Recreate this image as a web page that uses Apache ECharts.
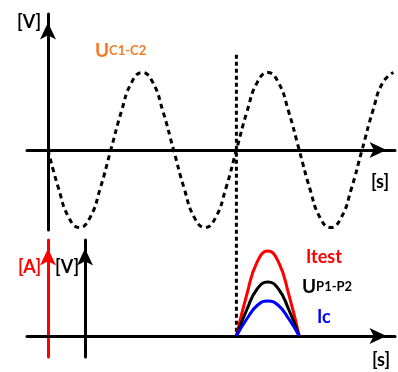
<!DOCTYPE html>
<html>
<head>
<meta charset="utf-8">
<script src="https://cdn.jsdelivr.net/npm/echarts@6/dist/echarts.min.js"></script>
<style>html,body{margin:0;padding:0;background:#fff}#c{width:398px;height:372px}</style>
</head>
<body>
<div id="c"></div>
<script>
// Top: capacitor voltage U(C1-C2), time in half-periods
var uTime = [0,0.17,0.33,0.5,0.67,0.83,1,1.17,1.33,1.5,1.67,1.83,2,2.17,2.33,2.5,2.67,2.83,3,3.17,3.33,3.5,3.67,3.83,4,4.17,4.33,4.5,4.67,4.83,5,5.17,5.33,5.5];
var uValues = [0,-0.5,-0.87,-1,-0.87,-0.5,0,0.5,0.87,1,0.87,0.5,0,-0.5,-0.87,-1,-0.87,-0.5,0,0.5,0.87,1,0.87,0.5,0,-0.5,-0.87,-1,-0.87,-0.5,0,0.5,0.87,1];
// Trigger marker (dashed vertical)
var markerTime = [3, 3];
var markerValues = [1.23, -2.4];
// Bottom: pulse
var pulseTime = [3,3.17,3.33,3.5,3.67,3.83,4];
var itestValues = [0,4.25,7.4,8.5,7.4,4.25,0];
var upValues = [0,2.7,4.7,5.4,4.7,2.7,0];
var icValues = [0,1.75,3.05,3.5,3.05,1.75,0];

function pairs(xs, ys){ return xs.map(function(x,i){return [x, ys[i]];}); }

var FONT = 'Lato, "Open Sans", sans-serif';
var arrowY = {show:true, symbol:['none','arrow'], symbolSize:[12,17], symbolOffset:[0,-8.5]};

var chart = echarts.init(document.getElementById('c'), null, {renderer:'canvas'});
chart.setOption({
  animation:false,
  backgroundColor:'#fff',
  grid:[
    {left:27, width:368, top:14, height:216},
    {left:27, width:368, top:240, height:117}
  ],
  xAxis:[
    {type:'value', gridIndex:0, min:-0.334, max:5.525,
      axisLine:Object.assign({onZero:true, lineStyle:{color:'#000', width:3}}, arrowY),
      axisTick:{show:false}, axisLabel:{show:false}, splitLine:{show:false}},
    {type:'value', gridIndex:1, min:-0.334, max:5.525,
      axisLine:Object.assign({onZero:true, onZeroAxisIndex:1, lineStyle:{color:'#000', width:3}}, arrowY),
      axisTick:{show:false}, axisLabel:{show:false}, splitLine:{show:false}}
  ],
  yAxis:[
    {type:'value', gridIndex:0, min:-1.032, max:1.755,
      axisLine:Object.assign({onZero:true, lineStyle:{color:'#000', width:3}}, arrowY),
      axisTick:{show:false}, axisLabel:{show:false}, splitLine:{show:false}},
    {type:'value', gridIndex:1, min:-2.1, max:9.6, position:'left', offset:-21,
      axisLine:Object.assign({onZero:false, lineStyle:{color:'#ff0000', width:3}}, arrowY),
      axisTick:{show:false}, axisLabel:{show:false}, splitLine:{show:false}},
    {type:'value', gridIndex:1, min:-2.1, max:9.6, position:'left', offset:-58,
      axisLine:Object.assign({onZero:false, lineStyle:{color:'#000', width:3}}, arrowY),
      axisTick:{show:false}, axisLabel:{show:false}, splitLine:{show:false}}
  ],
  series:[
    {type:'line', xAxisIndex:0, yAxisIndex:0, data:pairs(uTime,uValues), smooth:0.5, showSymbol:false,
      lineStyle:{color:'#000', width:3, type:[5,4]}, z:3},
    {type:'line', xAxisIndex:0, yAxisIndex:0, data:pairs(markerTime,markerValues), clip:false, showSymbol:false,
      lineStyle:{color:'#000', width:3, type:[4,3]}, z:3},
    {type:'line', xAxisIndex:1, yAxisIndex:1, data:pairs(pulseTime,itestValues), smooth:0.5, showSymbol:false,
      lineStyle:{color:'#ff0000', width:3}, z:3},
    {type:'line', xAxisIndex:1, yAxisIndex:1, data:pairs(pulseTime,upValues), smooth:0.5, showSymbol:false,
      lineStyle:{color:'#000', width:3}, z:4},
    {type:'line', xAxisIndex:1, yAxisIndex:1, data:pairs(pulseTime,icValues), smooth:0.5, showSymbol:false,
      lineStyle:{color:'#0000ff', width:3}, z:5}
  ],
  graphic:[
    {type:'text', x:17, y:22, style:{text:'[V]', font:'bold 18px '+FONT, fill:'#000', verticalAlign:'middle'}},
    {type:'text', x:95, y:60, style:{text:'{a|U}{b|C1-C2}', fill:'#F27A24', verticalAlign:'bottom',
      rich:{a:{font:'bold 19px '+FONT, fill:'#F27A24'}, b:{font:'bold 13px '+FONT, fill:'#F27A24'}}}},
    {type:'text', x:371, y:182, style:{text:'[s]', font:'bold 18px '+FONT, fill:'#000', verticalAlign:'middle'}},
    {type:'text', x:18, y:267, style:{text:'[A]', font:'bold 18px '+FONT, fill:'#ff0000', verticalAlign:'middle'}},
    {type:'text', x:55, y:267, style:{text:'[V]', font:'bold 18px '+FONT, fill:'#000', verticalAlign:'middle'}},
    {type:'text', x:306, y:257, style:{text:'Itest', font:'bold 18px '+FONT, fill:'#ff0000', verticalAlign:'middle'}},
    {type:'text', x:302, y:296, style:{text:'{a|U}{b|P1-P2}', fill:'#000', verticalAlign:'bottom',
      rich:{a:{font:'bold 19px '+FONT, fill:'#000'}, b:{font:'bold 13px '+FONT, fill:'#000'}}}},
    {type:'text', x:317, y:317, style:{text:'Ic', font:'bold 18px '+FONT, fill:'#0000ff', verticalAlign:'middle'}},
    {type:'text', x:372, y:360, style:{text:'[s]', font:'bold 18px '+FONT, fill:'#000', verticalAlign:'middle'}}
  ]
});
</script>
</body>
</html>
